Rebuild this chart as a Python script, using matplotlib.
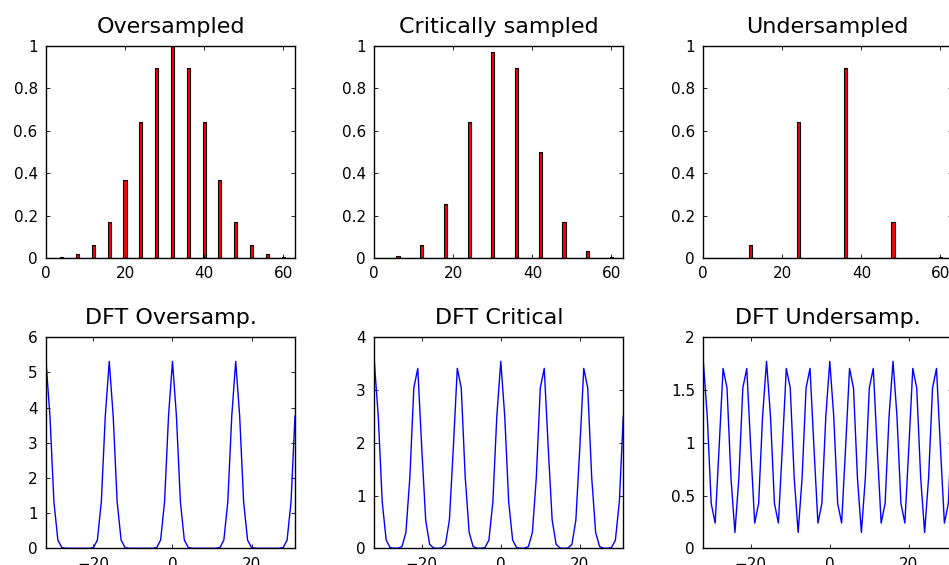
import numpy as np
import matplotlib
matplotlib.use("Agg")
import matplotlib.pyplot as plt

plt.rcParams['font.family'] = ['DejaVu Sans']

# sampled gaussian (64 samples), nonzero only at the sample positions
over_pos = [0, 4, 8, 12, 16, 20, 24, 28, 32, 36, 40, 44, 48, 52, 56, 60]
over_val = [0.0008, 0.0043, 0.0183, 0.0622, 0.1690, 0.3679, 0.6412, 0.8948,
            1.0, 0.8948, 0.6412, 0.3679, 0.1690, 0.0622, 0.0183, 0.0043]
crit_pos = [0, 6, 12, 18, 24, 30, 36, 42, 48, 54, 60]
crit_val = [0.0008, 0.0092, 0.0622, 0.2564, 0.6412, 0.9726, 0.8948,
            0.4994, 0.1690, 0.0347, 0.0043]
under_pos = [0, 12, 24, 36, 48, 60]
under_val = [0.0008, 0.0622, 0.6412, 0.8948, 0.1690, 0.0043]

# DFT magnitudes, frequency -32..31
freq = list(range(-32, 32))
dft_over = [5.316, 3.760, 1.326, 0.235, 0.020, 0.002, 0.000, 0.001, 0.001, 0.001, 0.000, 0.002, 0.020, 0.235, 1.326, 3.760,
            5.316, 3.760, 1.326, 0.235, 0.020, 0.002, 0.000, 0.001, 0.001, 0.001, 0.000, 0.002, 0.020, 0.235, 1.326, 3.760,
            5.316, 3.760, 1.326, 0.235, 0.020, 0.002, 0.000, 0.001, 0.001, 0.001, 0.000, 0.002, 0.020, 0.235, 1.326, 3.760,
            5.316, 3.760, 1.326, 0.235, 0.020, 0.002, 0.000, 0.001, 0.001, 0.001, 0.000, 0.002, 0.020, 0.235, 1.326, 3.760]
dft_crit = [3.545, 2.506, 0.884, 0.156, 0.013, 0.001, 0.002, 0.033, 0.301, 1.352, 3.039, 3.411, 1.913, 0.536, 0.075, 0.005,
            0.000, 0.005, 0.075, 0.536, 1.913, 3.411, 3.039, 1.352, 0.301, 0.033, 0.002, 0.001, 0.013, 0.156, 0.884, 2.506,
            3.545, 2.506, 0.884, 0.156, 0.013, 0.001, 0.002, 0.033, 0.301, 1.352, 3.039, 3.411, 1.913, 0.536, 0.075, 0.005,
            0.000, 0.005, 0.075, 0.536, 1.913, 3.411, 3.039, 1.352, 0.301, 0.033, 0.002, 0.001, 0.013, 0.156, 0.884, 2.506]
dft_under = [1.772, 1.252, 0.425, 0.239, 0.953, 1.705, 1.519, 0.668, 0.150, 0.668, 1.519, 1.705, 0.953, 0.239, 0.425, 1.252,
             1.772, 1.252, 0.425, 0.239, 0.953, 1.705, 1.519, 0.668, 0.150, 0.668, 1.519, 1.705, 0.953, 0.239, 0.425, 1.252,
             1.772, 1.252, 0.425, 0.239, 0.953, 1.705, 1.519, 0.668, 0.150, 0.668, 1.519, 1.705, 0.953, 0.239, 0.425, 1.252,
             1.772, 1.252, 0.425, 0.239, 0.953, 1.705, 1.519, 0.668, 0.150, 0.668, 1.519, 1.705, 0.953, 0.239, 0.425, 1.252]

titles = ["Oversampled", "Critically sampled", "Undersampled"]
dft_titles = ["DFT Oversamp.", "DFT Critical", "DFT Undersamp."]
dft_ymax = [6, 4, 2]
dft_ystep = [1, 1, 0.5]

N = 64
W, H = 949, 565
fig = plt.figure(figsize=(W / 100, H / 100), dpi=100)
lefts = [46, 374.3, 703.3]
w = 249


def box(l, top, bot):
    return [l / W, (H - bot) / H, w / W, (bot - top) / H]


def style(ax):
    ax.tick_params(direction='in', length=3, width=0.6, top=True, right=True,
                   labelsize=11)
    ax.tick_params(axis='x', pad=6)
    ax.tick_params(axis='y', pad=6)
    for s in ax.spines.values():
        s.set_linewidth(1.0)


samples = [(over_pos, over_val), (crit_pos, crit_val), (under_pos, under_val)]
spectra = [dft_over, dft_crit, dft_under]

for i in range(3):
    pos, val = samples[i]
    sig = np.zeros(N)
    sig[pos] = val
    ax = fig.add_axes(box(lefts[i], 45.7, 258))
    ax.bar(np.arange(N), sig, width=0.8, color='red', edgecolor='black', linewidth=0.8)
    ax.set_xlim(0, 63)
    ax.set_ylim(0, 1)
    ax.set_xticks([0, 20, 40, 60])
    ax.set_yticks([0, 0.2, 0.4, 0.6, 0.8, 1])
    ax.set_yticklabels(["0", "0.2", "0.4", "0.6", "0.8", "1"])
    ax.set_title(titles[i], fontsize=16, pad=9.5)
    style(ax)

    ax = fig.add_axes(box(lefts[i], 337.3, 548.3))
    ax.plot(freq, spectra[i], color='blue', linewidth=1.0)
    ax.set_xlim(-32, 31)
    ax.set_ylim(0, dft_ymax[i])
    ax.set_xticks([-20, 0, 20])
    yt = np.arange(0, dft_ymax[i] + 0.01, dft_ystep[i])
    ax.set_yticks(yt)
    ax.set_yticklabels(["%g" % v for v in yt])
    ax.set_title(dft_titles[i], fontsize=16, pad=9.5)
    style(ax)

fig.savefig("out.png", dpi=100)
